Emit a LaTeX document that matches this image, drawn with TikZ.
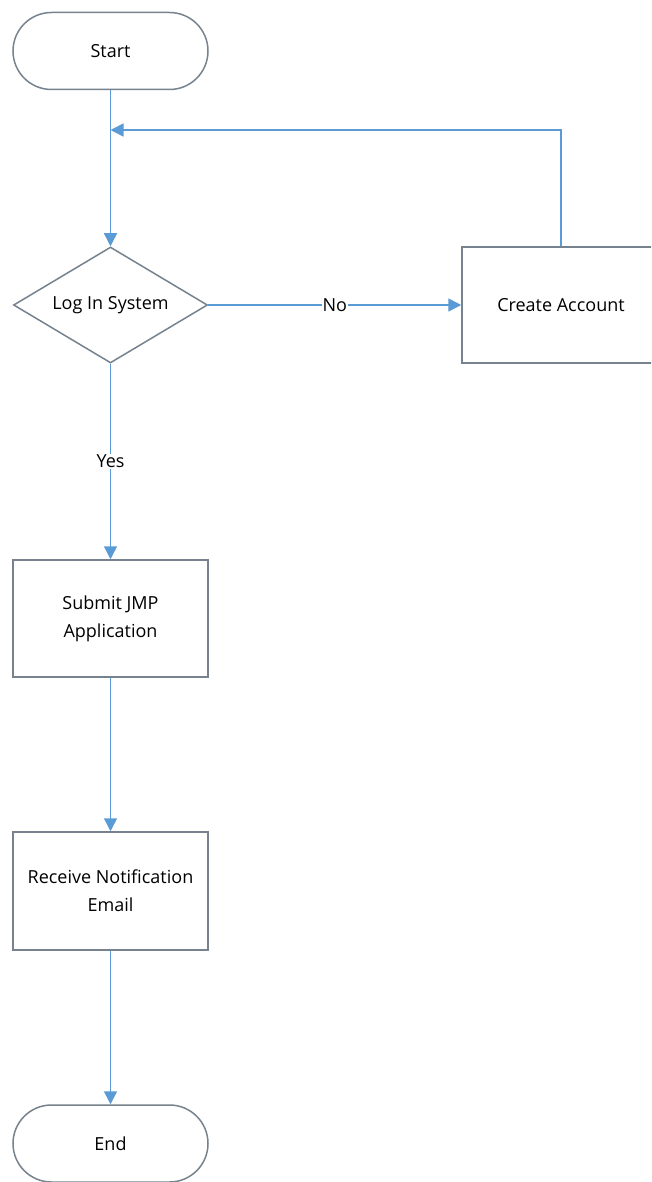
\documentclass[tikz,border=0pt]{standalone}
\usepackage{fontspec}
\setmainfont{Open Sans}
\usetikzlibrary{shapes.geometric,arrows.meta}
\definecolor{conn}{HTML}{5B9BD5}
\definecolor{edge}{HTML}{76828E}
\begin{document}
\begin{tikzpicture}[x=1pt,y=-1pt,
  base/.style={draw=edge,line width=1.5pt,fill=white,font=\fontsize{18}{28}\selectfont,align=center,inner sep=0pt},
  term/.style={base,rectangle,rounded corners=38.5pt,minimum width=195pt,minimum height=77pt},
  proc/.style={base,rectangle,minimum width=195pt,minimum height=117pt},
  dec/.style={base,diamond,shape aspect=1.67,minimum width=194pt,minimum height=116pt},
  conn/.style={draw=conn,line width=1.5pt,-{Triangle[length=13pt,width=13pt]}},
  lab/.style={fill=white,inner sep=1pt,font=\fontsize{18}{22}\selectfont}]
\clip (0,0) rectangle (651,1182);
\fill[white] (0,0) rectangle (651,1182);
\node[term] (start) at (110.5,51) {Start};
\node[dec] (login) at (110.5,305) {Log In System};
\node[proc,minimum width=198pt,minimum height=116pt] (create) at (561,305) {Create Account};
\node[proc] (submit) at (110.5,618.5) {Submit JMP\\Application};
\node[proc,minimum height=118pt] (receive) at (110.5,891) {Receive Notification\\Email};
\node[term] (end) at (110.5,1143.5) {End};
\coordinate (loopin) at (110.5,130);
\draw[conn] (start) -- (login);
\draw[conn] (create.north) |- (loopin);
\draw[conn] (login) -- node[lab] {No} (create);
\draw[conn] (login) -- node[lab] {Yes} (submit);
\draw[conn] (submit) -- (receive);
\draw[conn] (receive) -- (end);
\end{tikzpicture}
\end{document}
